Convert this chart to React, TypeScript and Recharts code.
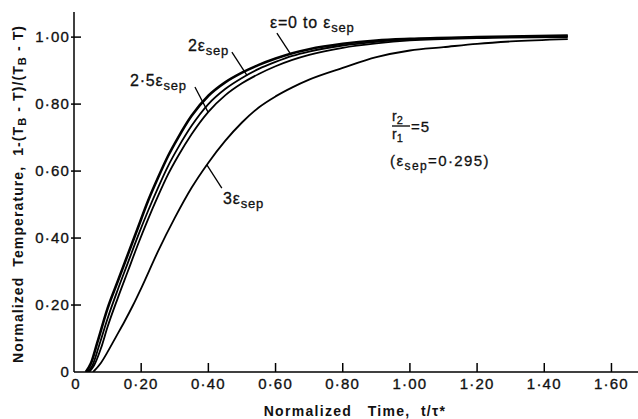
import { LineChart, Line, XAxis, YAxis, ReferenceLine } from "recharts";

const xTicks = [0, 0.2, 0.4, 0.6, 0.8, 1.0, 1.2, 1.4, 1.6];
const yTicks = [0, 0.2, 0.4, 0.6, 0.8, 1.0];

// eps = 0 to eps_sep (top band)
const tBand = [0.035, 0.05, 0.07, 0.1, 0.13, 0.16, 0.19, 0.22, 0.25, 0.28, 0.31, 0.35, 0.4, 0.45, 0.5, 0.55, 0.6, 0.65, 0.7, 0.8, 0.9, 1.0, 1.2, 1.47];
const vBand = [0, 0.025, 0.09, 0.19, 0.27, 0.35, 0.43, 0.51, 0.58, 0.645, 0.7, 0.765, 0.825, 0.865, 0.894, 0.917, 0.936, 0.952, 0.964, 0.98, 0.99, 0.995, 1.0, 1.005];

// 2 eps_sep
const t2 = [0.04, 0.055, 0.075, 0.1, 0.13, 0.16, 0.19, 0.22, 0.25, 0.28, 0.31, 0.35, 0.4, 0.45, 0.5, 0.55, 0.6, 0.65, 0.7, 0.8, 0.9, 1.0, 1.2, 1.47];
const v2 = [0, 0.02, 0.08, 0.16, 0.245, 0.325, 0.405, 0.48, 0.55, 0.615, 0.67, 0.735, 0.8, 0.845, 0.878, 0.905, 0.926, 0.944, 0.957, 0.975, 0.986, 0.993, 0.999, 1.003];

// 2.5 eps_sep
const t25 = [0.045, 0.06, 0.08, 0.1, 0.13, 0.16, 0.19, 0.22, 0.25, 0.28, 0.31, 0.35, 0.4, 0.45, 0.5, 0.55, 0.6, 0.65, 0.7, 0.8, 0.9, 1.0, 1.2, 1.47];
const v25 = [0, 0.02, 0.07, 0.135, 0.22, 0.3, 0.38, 0.455, 0.525, 0.59, 0.645, 0.71, 0.777, 0.826, 0.862, 0.89, 0.913, 0.932, 0.947, 0.968, 0.981, 0.99, 0.997, 1.0];

// 3 eps_sep
const t3 = [0.057, 0.08, 0.1, 0.125, 0.15, 0.176, 0.2, 0.25, 0.3, 0.35, 0.4, 0.45, 0.5, 0.55, 0.6, 0.65, 0.7, 0.8, 0.9, 1.0, 1.1, 1.2, 1.3, 1.47];
const v3 = [0, 0.027, 0.06, 0.105, 0.15, 0.2, 0.25, 0.36, 0.46, 0.55, 0.625, 0.69, 0.745, 0.79, 0.823, 0.85, 0.873, 0.908, 0.94, 0.96, 0.97, 0.98, 0.987, 0.994];

const toData = (ts: number[], vs: number[]) => ts.map((t, i) => ({ t, v: vs[i] }));

const FONT = '"Liberation Sans", Arial, sans-serif';
const fmt = (v: number) => (v === 0 ? "0" : v.toFixed(2).replace(".", "·"));

function XTick({ x, y, payload }: any) {
  return (
    <g>
      {payload.value !== 0 && <line x1={x} x2={x} y1={y} y2={y - 9} stroke="#000" strokeWidth={1.5} />}
      <text
        x={x + (payload.value === 0 ? 2 : 0)}
        y={y + 17}
        textAnchor="middle"
        fontSize={15}
        fontFamily={FONT}
        letterSpacing={1.2}
        fill="#111"
        stroke="#111"
        strokeWidth={0.35}
      >
        {fmt(payload.value)}
      </text>
    </g>
  );
}

function YTick({ x, y, payload }: any) {
  return (
    <g>
      {payload.value !== 0 && <line x1={x - 3} x2={x + 7} y1={y} y2={y} stroke="#000" strokeWidth={1.5} />}
      <text
        x={x - 4}
        y={y + 5}
        textAnchor="end"
        fontSize={15}
        fontFamily={FONT}
        letterSpacing={1.2}
        fill="#111"
        stroke="#111"
        strokeWidth={0.35}
      >
        {fmt(payload.value)}
      </text>
    </g>
  );
}

const lineProps = {
  dataKey: "v",
  type: "monotone" as const,
  stroke: "#000",
  dot: false,
  isAnimationActive: false,
};

const txt = { stroke: "#111", strokeWidth: 0.3 };

export default function App() {
  return (
    <div style={{ position: "relative", width: 638, height: 419, background: "#fff" }}>
      <style>{`body{margin:0}`}</style>
      <LineChart width={638} height={419} margin={{ top: 12, right: 0, left: 0, bottom: 0 }}>
        <XAxis
          dataKey="t"
          type="number"
          domain={[0, 1.679]}
          ticks={xTicks}
          height={47}
          tickSize={0}
          tickMargin={0}
          tickLine={false}
          axisLine={{ stroke: "#000", strokeWidth: 1.5 }}
          tick={<XTick />}
          allowDataOverflow
        />
        <YAxis
          type="number"
          domain={[0, 1.075]}
          ticks={yTicks}
          width={74}
          tickSize={0}
          tickMargin={0}
          tickLine={false}
          axisLine={{ stroke: "#000", strokeWidth: 1.5 }}
          tick={<YTick />}
          allowDataOverflow
        />
        <Line data={toData(tBand, vBand)} {...lineProps} strokeWidth={2.6} />
        <Line data={toData(t2, v2)} {...lineProps} strokeWidth={1.8} />
        <Line data={toData(t25, v25)} {...lineProps} strokeWidth={1.8} />
        <Line data={toData(t3, v3)} {...lineProps} strokeWidth={1.8} />
        <ReferenceLine segment={[{ x: 0.604, y: 1.012 }, { x: 0.643, y: 0.952 }]} stroke="#000" strokeWidth={1.3} ifOverflow="visible" />
        <ReferenceLine segment={[{ x: 0.47, y: 0.955 }, { x: 0.515, y: 0.886 }]} stroke="#000" strokeWidth={1.3} ifOverflow="visible" />
        <ReferenceLine segment={[{ x: 0.36, y: 0.851 }, { x: 0.399, y: 0.776 }]} stroke="#000" strokeWidth={1.3} ifOverflow="visible" />
        <ReferenceLine segment={[{ x: 0.396, y: 0.618 }, { x: 0.44, y: 0.549 }]} stroke="#000" strokeWidth={1.3} ifOverflow="visible" />
      </LineChart>
      <svg
        width={638}
        height={419}
        style={{ position: "absolute", left: 0, top: 0, pointerEvents: "none" }}
        fontFamily={FONT}
        fill="#111"
      >
        <text x={270} y={28} fontSize={16} letterSpacing={0.8} {...txt}>
          ε=0 to ε<tspan fontSize={13} dy={4}>sep</tspan>
        </text>
        <text x={188} y={51} fontSize={16} letterSpacing={0.8} {...txt}>
          2ε<tspan fontSize={13} dy={4}>sep</tspan>
        </text>
        <text x={130} y={86} fontSize={16} letterSpacing={0.8} {...txt}>
          2·5ε<tspan fontSize={13} dy={4}>sep</tspan>
        </text>
        <text x={223} y={204} fontSize={16} letterSpacing={0.8} {...txt}>
          3ε<tspan fontSize={13} dy={4}>sep</tspan>
        </text>
        <text x={392} y={121} fontSize={14} {...txt}>
          r<tspan fontSize={11} dy={3}>2</tspan>
        </text>
        <line x1={392} x2={410} y1={126} y2={126} stroke="#000" strokeWidth={1.3} />
        <text x={392} y={139} fontSize={14} {...txt}>
          r<tspan fontSize={11} dy={3}>1</tspan>
        </text>
        <text x={411} y={132} fontSize={15} letterSpacing={1} {...txt}>=5</text>
        <text x={390} y={166} fontSize={15} letterSpacing={1.4} {...txt}>
          (ε<tspan fontSize={12} dy={4}>sep</tspan>
          <tspan dy={-4}>=0·295)</tspan>
        </text>
        <text
          transform="translate(23,194) rotate(-90)"
          textAnchor="middle"
          fontSize={14}
          fontWeight="bold"
          letterSpacing={1.1}
          style={{ whiteSpace: "pre" }}
        >
          Normalized  Temperature,  1-(T<tspan fontSize={11} dy={3}>B</tspan>
          <tspan dy={-3}> - T)/(T</tspan>
          <tspan fontSize={11} dy={3}>B</tspan>
          <tspan dy={-3}> - T)</tspan>
        </text>
        <text
          x={355}
          y={416}
          textAnchor="middle"
          fontSize={14}
          fontWeight="bold"
          letterSpacing={1.3}
          style={{ whiteSpace: "pre" }}
        >
          Normalized   Time,  t/τ*
        </text>
      </svg>
    </div>
  );
}
